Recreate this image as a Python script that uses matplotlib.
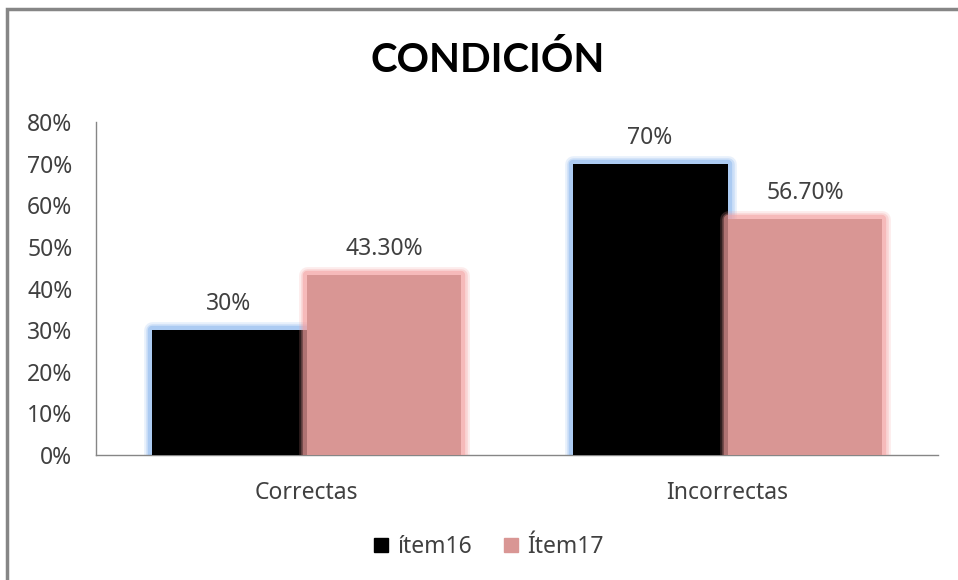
import matplotlib
matplotlib.use("Agg")
import matplotlib.pyplot as plt
from matplotlib.patches import Rectangle
from matplotlib.lines import Line2D
from matplotlib.ticker import PercentFormatter
import numpy as np

plt.rcParams['font.family'] = ['Noto Sans', 'DejaVu Sans']

# data
categories = ["Correctas", "Incorrectas"]
series_names = ["ítem16", "Ítem17"]
item16 = [0.30, 0.70]
item17 = [0.433, 0.567]
labels16 = ["30%", "70%"]
labels17 = ["43.30%", "56.70%"]

fill_colors = ["#000000", "#D99694"]
glow_colors = ["#8DB8EE", "#F4A0A0"]
text_color = "#404040"
fs = 16.5

fig = plt.figure(figsize=(9.58, 5.8), dpi=100)
ax = fig.add_axes([96/958, 1 - 455/580, (938 - 96)/958, (455 - 122)/580])

x = np.arange(len(categories))
w = 0.368

for i, (vals, labs) in enumerate([(item16, labels16), (item17, labels17)]):
    pos = x - w/2 if i == 0 else x + w/2
    # soft glow around the bars
    for lw, a in [(12, 0.2), (9, 0.3), (6, 0.5)]:
        ax.bar(pos, vals, w, color='none', edgecolor=glow_colors[i],
               linewidth=lw, alpha=a, joinstyle='round', zorder=2 + i*2)
    ax.bar(pos, vals, w, color=fill_colors[i], zorder=3 + i*2)
    for xp, v, lab in zip(pos, vals, labs):
        ax.annotate(lab, (xp, v), xytext=(0, 10), textcoords='offset points',
                    ha='center', va='bottom', fontsize=fs, color=text_color)

ax.set_xlim(-0.5, 1.5)
ax.set_ylim(0, 0.8)
ax.set_yticks(np.arange(0, 0.81, 0.1))
ax.yaxis.set_major_formatter(PercentFormatter(1.0, decimals=0))
ax.set_xticks(x)
ax.set_xticklabels(categories)
ax.tick_params(axis='both', length=0, labelsize=fs, labelcolor=text_color)
ax.tick_params(axis='y', pad=17)
ax.tick_params(axis='x', pad=19)
for s in ['top', 'right']:
    ax.spines[s].set_visible(False)
for s in ['left', 'bottom']:
    ax.spines[s].set_color('#868686')
    ax.spines[s].set_linewidth(1)

fig.text(488/958, 1 - 60/580, "CONDICIÓN", ha='center', va='center',
         fontsize=29, fontweight='bold', color='black', family=['Lato', 'DejaVu Sans'])

handles = [Line2D([], [], marker='s', linestyle='none', markersize=10,
                  markerfacecolor=c, markeredgecolor=c) for c in fill_colors]
fig.legend(handles, series_names, loc='center', bbox_to_anchor=(488/958, 1 - 547/580),
           ncol=2, frameon=False, fontsize=fs, labelcolor=text_color,
           handletextpad=0.3, columnspacing=1.3, handlelength=0.8)

fig.add_artist(Rectangle((7/958, -0.1), 1.2, 1.1 - 9/580, transform=fig.transFigure,
                         fill=False, edgecolor='#868686', linewidth=2.5))

fig.savefig("out.png", dpi=100)
